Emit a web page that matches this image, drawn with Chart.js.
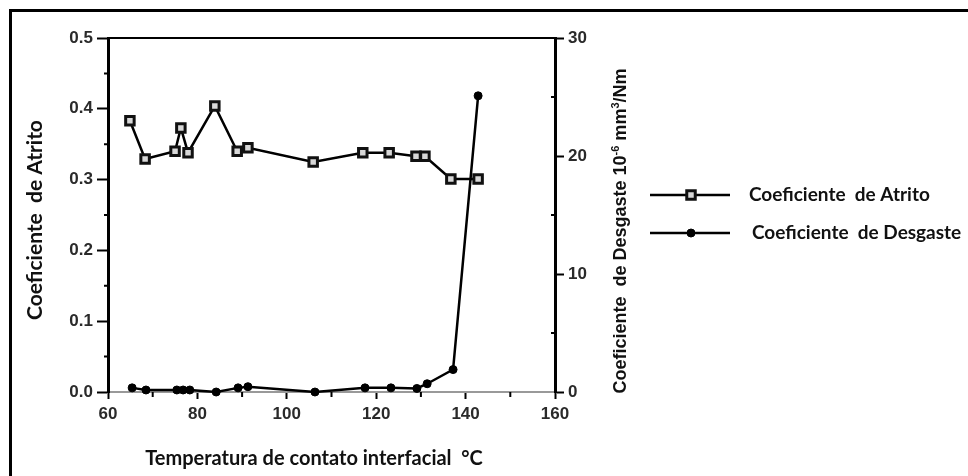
<!DOCTYPE html>
<html><head><meta charset="utf-8">
<script src="https://cdn.jsdelivr.net/npm/chart.js@4.4.0/dist/chart.umd.min.js"></script>
<style>html,body{margin:0;padding:0;background:#fff;overflow:hidden}#wrap{position:relative;width:968px;height:476px}</style>
</head><body><div id="wrap"><canvas id="c" width="968" height="476"></canvas></div>
<script>
// ---- data ----
const tempAtrito = [64.9, 68.3, 75.0, 76.3, 77.9, 83.9, 88.9, 91.3, 105.9, 117.0, 122.9, 128.9, 130.9, 136.7, 142.8];
const atrito     = [0.383, 0.329, 0.340, 0.373, 0.338, 0.404, 0.340, 0.345, 0.325, 0.338, 0.338, 0.333, 0.333, 0.301, 0.301];
const tempDesgaste = [65.4, 68.5, 75.4, 76.8, 78.3, 84.2, 89.1, 91.3, 106.3, 117.5, 123.3, 129.1, 131.4, 137.2, 142.8];
const desgaste     = [0.35, 0.17, 0.17, 0.17, 0.17, 0.0, 0.35, 0.45, 0.0, 0.35, 0.35, 0.3, 0.7, 1.9, 25.1];
const xTicks = [60, 80, 100, 120, 140, 160];
const xMinor = [70, 90, 110, 130, 150];
const yLeftTicks = [0.0, 0.1, 0.2, 0.3, 0.4, 0.5];
const yLeftMinor = [0.05, 0.15, 0.25, 0.35, 0.45];
const yRightTicks = [0, 10, 20, 30];
const yRightMinor = [5, 15, 25];
const labelAtrito = 'Coeficiente  de Atrito';
const labelDesgaste = 'Coeficiente  de Desgaste';
const xTitle = 'Temperatura de contato interfacial  °C';
const yLeftTitle = 'Coeficiente  de Atrito';
const yRightTitleParts = [['Coeficiente  de Desgaste 10', false], ['-6', true], [' mm', false], ['3', true], ['/Nm', false]];

const tickFont = {family: 'Liberation Sans', size: 17, weight: 'bold'};

const decor = {
  id: 'decor',
  beforeDraw(chart) {
    const ctx = chart.ctx;
    ctx.save();
    ctx.fillStyle = '#fff';
    ctx.fillRect(0, 0, chart.width, chart.height);
    ctx.fillStyle = '#000';
    ctx.fillRect(9, 9, 3, chart.height - 9);
    ctx.fillRect(9, 9, chart.width - 9, 3);
    ctx.restore();
  },
  afterDraw(chart) {
    const ctx = chart.ctx;
    const a = chart.chartArea;
    const sx = chart.scales.x, sy = chart.scales.y, sy1 = chart.scales.y1;
    ctx.save();
    // top frame line
    ctx.strokeStyle = '#000'; ctx.lineWidth = 2;
    ctx.beginPath(); ctx.moveTo(a.left, a.top); ctx.lineTo(a.right, a.top); ctx.stroke();
    // minor ticks
    ctx.lineWidth = 2;
    ctx.beginPath();
    xMinor.forEach(v => { const p = sx.getPixelForValue(v); ctx.moveTo(p, a.bottom); ctx.lineTo(p, a.bottom + 5); });
    yLeftMinor.forEach(v => { const p = sy.getPixelForValue(v); ctx.moveTo(a.left - 4, p); ctx.lineTo(a.left, p); });
    yRightMinor.forEach(v => { const p = sy1.getPixelForValue(v); ctx.moveTo(a.right - 4, p); ctx.lineTo(a.right, p); });
    ctx.stroke();
    // titles
    ctx.fillStyle = '#111';
    ctx.textAlign = 'center'; ctx.textBaseline = 'alphabetic';
    ctx.font = 'bold 20px Lato';
    ctx.fillText(xTitle, 314, 465);
    ctx.save();
    ctx.font = 'bold 21px Lato';
    ctx.translate(42, 220); ctx.rotate(-Math.PI / 2);
    ctx.fillText(yLeftTitle, 0, 0);
    ctx.restore();
    // right title with superscripts
    ctx.save();
    ctx.translate(626, 231); ctx.rotate(-Math.PI / 2);
    ctx.textAlign = 'left';
    const big = 'bold 18px "Liberation Sans"', small = 'bold 11px "Liberation Sans"';
    let total = 0;
    yRightTitleParts.forEach(([t, sup]) => { ctx.font = sup ? small : big; total += ctx.measureText(t).width; });
    let x = -total / 2;
    yRightTitleParts.forEach(([t, sup]) => { ctx.font = sup ? small : big; ctx.fillText(t, x, sup ? -7 : 0); x += ctx.measureText(t).width; });
    ctx.restore();
    // legend
    const rows = [[chart.data.datasets[0], 195, 749], [chart.data.datasets[1], 233, 752]];
    rows.forEach(([ds, y, tx]) => {
      ctx.strokeStyle = ds.borderColor; ctx.lineWidth = ds.borderWidth;
      ctx.beginPath(); ctx.moveTo(650, y); ctx.lineTo(730, y); ctx.stroke();
      ctx.fillStyle = ds.pointBackgroundColor; ctx.strokeStyle = ds.pointBorderColor;
      ctx.lineWidth = ds.pointBorderWidth;
      Chart.helpers.drawPoint(ctx, {pointStyle: ds.pointStyle, radius: ds.pointRadius, rotation: 0, borderWidth: ds.pointBorderWidth}, 691, y);
      ctx.fillStyle = '#111';
      ctx.font = 'bold 19px Lato'; ctx.textAlign = 'left'; ctx.textBaseline = 'middle';
      ctx.fillText(ds.label, tx, y);
    });
    ctx.restore();
  }
};

new Chart(document.getElementById('c'), {
  type: 'line',
  data: {
    datasets: [
      {
        label: labelAtrito, yAxisID: 'y',
        data: tempAtrito.map((t, i) => ({x: t, y: atrito[i]})),
        borderColor: '#000', borderWidth: 2.5, pointStyle: 'rect', pointRadius: 6,
        pointBackgroundColor: '#d8d8d8', pointBorderColor: '#111', pointBorderWidth: 3,
        tension: 0, clip: false
      },
      {
        label: labelDesgaste, yAxisID: 'y1',
        data: tempDesgaste.map((t, i) => ({x: t, y: desgaste[i]})),
        borderColor: '#000', borderWidth: 2.5, pointStyle: 'circle', pointRadius: 4,
        pointBackgroundColor: '#000', pointBorderColor: '#000', pointBorderWidth: 1,
        tension: 0, clip: false
      }
    ]
  },
  options: {
    responsive: false, animation: false, events: [],
    layout: {padding: {left: 10, right: 323, top: 38, bottom: 0}},
    plugins: {legend: {display: false}, tooltip: {enabled: false}},
    scales: {
      x: {
        type: 'linear', position: 'bottom', min: 60, max: 160,
        afterBuildTicks: s => { s.ticks = xTicks.map(v => ({value: v})); },
        afterFit: s => { s.height = 84; },
        ticks: {font: tickFont, color: '#2a2a2a', padding: 5, maxRotation: 0},
        grid: {drawOnChartArea: false, tickLength: 7, tickColor: '#000', tickWidth: 2},
        border: {color: '#999', width: 2}
      },
      y: {
        type: 'linear', position: 'left', min: 0, max: 0.5,
        afterBuildTicks: s => { s.ticks = yLeftTicks.map(v => ({value: v})); },
        afterFit: s => { s.width = 98; },
        ticks: {font: tickFont, color: '#2a2a2a', padding: 4, callback: v => Number(v).toFixed(1)},
        grid: {drawOnChartArea: false, tickLength: 11, tickColor: '#000', tickWidth: 2},
        border: {color: '#000', width: 3}
      },
      y1: {
        type: 'linear', position: 'right', min: 0, max: 30,
        afterBuildTicks: s => { s.ticks = yRightTicks.map(v => ({value: v})); },
        afterFit: s => { s.width = 90; },
        ticks: {font: tickFont, color: '#2a2a2a', padding: 4},
        grid: {drawOnChartArea: false, tickLength: 9, tickColor: '#000', tickWidth: 2},
        border: {color: '#000', width: 3}
      }
    }
  },
  plugins: [decor]
});
</script>
</body></html>
